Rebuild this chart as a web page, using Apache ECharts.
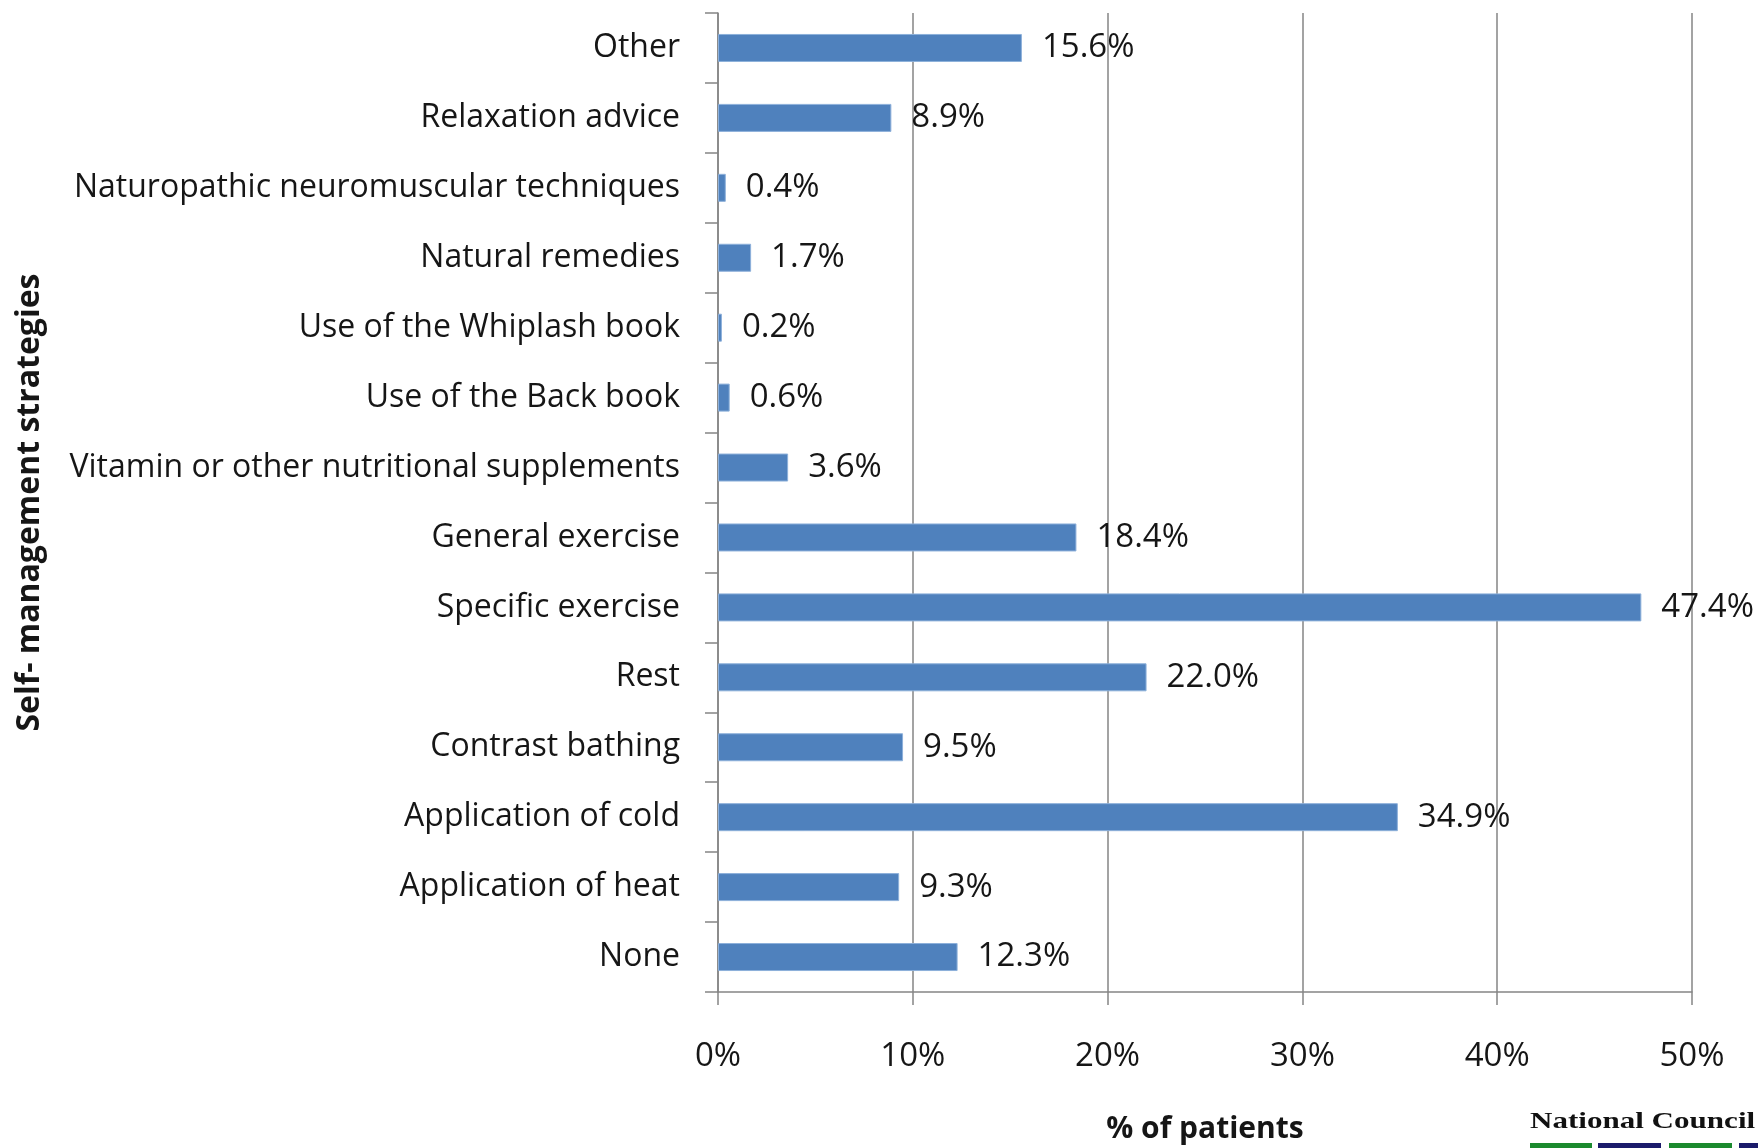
<!DOCTYPE html>
<html>
<head>
<meta charset="utf-8">
<script src="https://cdn.jsdelivr.net/npm/echarts@6/dist/echarts.min.js"></script>
<style>
  html, body { margin: 0; padding: 0; background: #fff; }
  #main { width: 1758px; height: 1148px; }
</style>
</head>
<body>
<div id="main"></div>
<script>
// bottom to top, as the category axis draws them
const categories = [
  'None',
  'Application of heat',
  'Application of cold',
  'Contrast bathing',
  'Rest',
  'Specific exercise',
  'General exercise',
  'Vitamin or other nutritional supplements',
  'Use of the Back book',
  'Use of the Whiplash book',
  'Natural remedies',
  'Naturopathic neuromuscular techniques',
  'Relaxation advice',
  'Other'
];
const percentPatients = [12.3, 9.3, 34.9, 9.5, 22.0, 47.4, 18.4, 3.6, 0.6, 0.2, 1.7, 0.4, 8.9, 15.6];
const xTicks = [0, 10, 20, 30, 40, 50];

const FONT = '"Open Sans"';
const gray = '#858585';
const textColor = '#161616';

var myChart = echarts.init(document.getElementById('main'));

var option = {
  animation: false,
  backgroundColor: '#ffffff',
  grid: {
    left: 718,
    right: 66,
    top: 13,
    bottom: 156,
    containLabel: false,
    outerBoundsMode: 'none'
  },
  xAxis: {
    type: 'value',
    min: xTicks[0],
    max: xTicks[xTicks.length - 1],
    interval: 10,
    name: '% of patients',
    nameLocation: 'middle',
    nameGap: 122,
    nameTextStyle: {
      fontFamily: FONT,
      fontWeight: 'bold',
      fontSize: 30,
      color: textColor
    },
    axisLine: { show: true, lineStyle: { color: gray, width: 1.5 } },
    axisTick: { show: true, length: 13, lineStyle: { color: gray, width: 1.5 } },
    axisLabel: {
      formatter: '{value}%',
      margin: 48,
      fontFamily: FONT,
      fontSize: 33,
      color: textColor
    },
    splitLine: { show: true, lineStyle: { color: gray, width: 1.5 } }
  },
  yAxis: {
    type: 'category',
    data: categories,
    name: 'Self- management strategies',
    nameLocation: 'middle',
    nameGap: 672,
    nameTextStyle: {
      fontFamily: FONT,
      fontWeight: 'bold',
      fontSize: 32,
      color: textColor
    },
    axisLine: { show: true, lineStyle: { color: gray, width: 1.5 } },
    axisTick: { show: true, length: 13, lineStyle: { color: gray, width: 1.5 } },
    axisLabel: {
      margin: 38,
      fontFamily: FONT,
      fontSize: 32,
      color: textColor
    }
  },
  series: [
    {
      type: 'bar',
      data: percentPatients,
      barWidth: 28,
      itemStyle: {
        color: '#4F81BD',
        borderColor: '#8DB0DA',
        borderWidth: 1
      },
      label: {
        show: true,
        position: 'right',
        distance: 20,
        formatter: (p) => p.value.toFixed(1) + '%',
        fontFamily: FONT,
        fontSize: 33,
        color: textColor
      }
    }
  ],
  graphic: [
    {
      type: 'text',
      x: 1530,
      y: 1111,
      scaleX: 1.35,
      style: {
        text: 'National Council',
        font: 'bold 23px "Liberation Serif"',
        fill: '#111111'
      }
    },
    { type: 'rect', shape: { x: 1530, y: 1143, width: 62, height: 8 }, style: { fill: '#1b8a2e' } },
    { type: 'rect', shape: { x: 1598, y: 1143, width: 63, height: 8 }, style: { fill: '#1b1b6b' } },
    { type: 'rect', shape: { x: 1669, y: 1143, width: 63, height: 8 }, style: { fill: '#1b8a2e' } },
    { type: 'rect', shape: { x: 1739, y: 1143, width: 30, height: 8 }, style: { fill: '#1b1b6b' } }
  ]
};

option && myChart.setOption(option);
</script>
</body>
</html>
